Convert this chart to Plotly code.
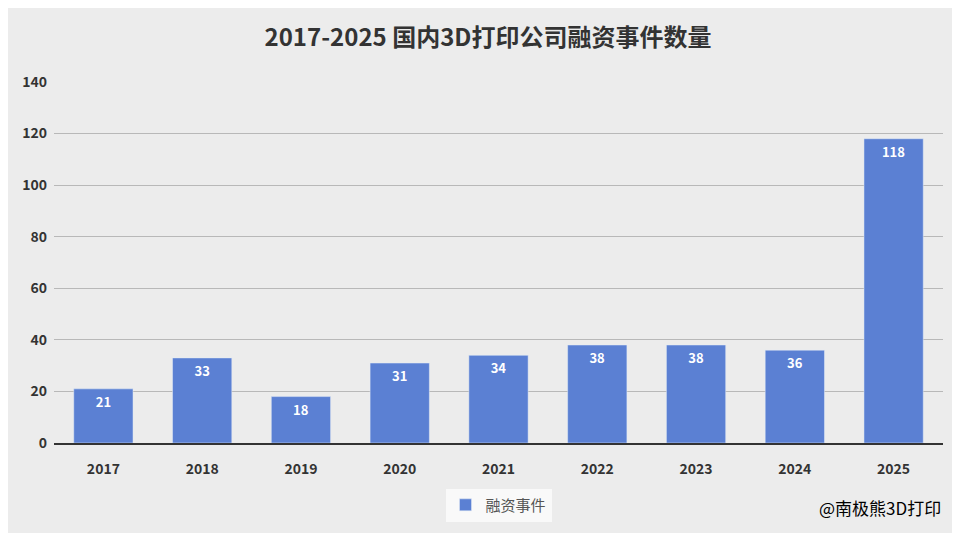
import plotly.graph_objects as go

years = ["2017","2018","2019","2020","2021","2022","2023","2024","2025"]
events = [21,33,18,31,34,38,38,36,118]
ticks = [0,20,40,60,80,100,120,140]

F = "Noto Sans CJK SC"
fig = go.Figure(go.Bar(x=years, y=events, name="融资事件", marker_color="#5b80d3",
    text=events, textposition="inside", insidetextanchor="end",
    textfont=dict(color="white", size=13, family=F, weight="bold"), showlegend=True))
fig.update_layout(
    width=960, height=533, paper_bgcolor="#ececec", plot_bgcolor="rgba(0,0,0,0)",
    margin=dict(l=46, r=25, t=74, b=98),
    title=dict(text="<b>2017-2025 国内3D打印公司融资事件数量</b>", x=0.5, y=0.944, xanchor="center", yanchor="middle",
               font=dict(family=F, size=24, color="#333")),
    bargap=0.4,
    xaxis=dict(tickfont=dict(family=F, size=14, color="#333", weight="bold"), showline=True,
               linecolor="#333", linewidth=1.5, ticklabelstandoff=12),
    yaxis=dict(range=[0,140], tickvals=ticks, tickfont=dict(family=F, size=14, color="#333", weight="bold"),
               gridcolor="#b8b8b8", zeroline=False, ticklabelstandoff=6),
    legend=dict(orientation="h", x=0.5, xanchor="center", y=-0.172, yanchor="middle",
                bgcolor="rgba(255,255,255,0.7)", font=dict(family=F, size=15, color="#555")),
    annotations=[dict(text="@南极熊3D打印", x=1.0, y=-0.18, xref="paper", yref="paper", xanchor="right",
                      yanchor="middle", showarrow=False, font=dict(family=F, size=17, color="black"))],
)
fig.write_html("out.html")
